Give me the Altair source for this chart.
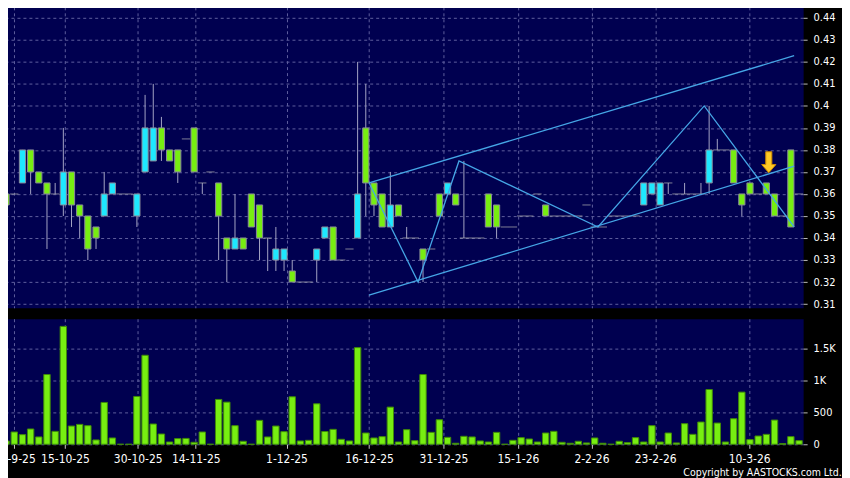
import altair as alt
import pandas as pd

# ---------------- data ----------------
opens = [0.36, 0.36, 0.365, 0.38, 0.37, 0.365, 0.36, 0.355, 0.37, 0.355,
         0.35, 0.345, 0.35, 0.36, 0.36, 0.36, 0.35, 0.37, 0.375, 0.39,
         0.38, 0.38, 0.385, 0.39, 0.365, 0.37, 0.365, 0.34, 0.335, 0.34,
         0.36, 0.355, 0.34, 0.33, 0.33, 0.325, 0.32, 0.32, 0.33, 0.34,
         0.345, 0.33, 0.335, 0.34, 0.39, 0.365, 0.36, 0.345, 0.355, 0.34,
         0.34, 0.335, 0.335, 0.36, 0.36, 0.36, 0.34, 0.34, 0.34, 0.36,
         0.355, 0.345, 0.345, 0.35, 0.35, 0.36, 0.355, 0.35, 0.35, 0.35,
         0.35, 0.355, 0.345, 0.345, 0.35, 0.35, 0.35, 0.35, 0.355, 0.36,
         0.355, 0.365, 0.36, 0.36, 0.36, 0.36, 0.365, 0.38, 0.38, 0.38,
         0.36, 0.365, 0.36, 0.365, 0.36, 0.35, 0.38, 0.36]
highs = [0.36, 0.36, 0.38, 0.38, 0.37, 0.365, 0.365, 0.39, 0.37, 0.355,
         0.35, 0.345, 0.37, 0.365, 0.36, 0.36, 0.36, 0.405, 0.41, 0.395,
         0.38, 0.38, 0.385, 0.39, 0.365, 0.37, 0.365, 0.34, 0.36, 0.34,
         0.36, 0.355, 0.34, 0.345, 0.335, 0.33, 0.32, 0.32, 0.335, 0.345,
         0.345, 0.33, 0.335, 0.42, 0.41, 0.365, 0.36, 0.37, 0.355, 0.345,
         0.34, 0.335, 0.335, 0.36, 0.365, 0.36, 0.375, 0.34, 0.34, 0.36,
         0.355, 0.345, 0.345, 0.35, 0.35, 0.36, 0.355, 0.35, 0.35, 0.35,
         0.35, 0.355, 0.345, 0.345, 0.35, 0.35, 0.35, 0.35, 0.365, 0.365,
         0.365, 0.365, 0.36, 0.365, 0.36, 0.365, 0.40, 0.385, 0.38, 0.38,
         0.36, 0.365, 0.36, 0.365, 0.36, 0.35, 0.38, 0.36]
lows = [0.35, 0.36, 0.365, 0.36, 0.365, 0.335, 0.36, 0.35, 0.345, 0.34,
        0.33, 0.335, 0.35, 0.36, 0.36, 0.36, 0.345, 0.37, 0.375, 0.375,
        0.375, 0.365, 0.385, 0.37, 0.36, 0.37, 0.33, 0.32, 0.335, 0.335,
        0.345, 0.33, 0.325, 0.325, 0.325, 0.32, 0.32, 0.32, 0.32, 0.34,
        0.33, 0.33, 0.335, 0.34, 0.35, 0.35, 0.345, 0.345, 0.35, 0.34,
        0.34, 0.32, 0.335, 0.35, 0.36, 0.355, 0.34, 0.34, 0.34, 0.345,
        0.34, 0.345, 0.345, 0.35, 0.35, 0.36, 0.35, 0.35, 0.35, 0.35,
        0.35, 0.355, 0.345, 0.345, 0.35, 0.35, 0.35, 0.35, 0.355, 0.36,
        0.355, 0.36, 0.36, 0.36, 0.36, 0.36, 0.36, 0.38, 0.38, 0.365,
        0.35, 0.36, 0.36, 0.36, 0.35, 0.35, 0.345, 0.36]
closes = [0.355, 0.36, 0.38, 0.37, 0.365, 0.36, 0.36, 0.37, 0.355, 0.35,
          0.335, 0.34, 0.36, 0.365, 0.36, 0.36, 0.36, 0.39, 0.39, 0.38,
          0.375, 0.37, 0.385, 0.37, 0.365, 0.37, 0.35, 0.335, 0.34, 0.335,
          0.345, 0.34, 0.34, 0.335, 0.335, 0.32, 0.32, 0.32, 0.335, 0.345,
          0.33, 0.33, 0.335, 0.36, 0.365, 0.355, 0.345, 0.355, 0.35, 0.34,
          0.34, 0.33, 0.335, 0.35, 0.365, 0.355, 0.34, 0.34, 0.34, 0.345,
          0.345, 0.345, 0.345, 0.35, 0.35, 0.36, 0.35, 0.35, 0.35, 0.35,
          0.35, 0.355, 0.345, 0.345, 0.35, 0.35, 0.35, 0.35, 0.365, 0.365,
          0.365, 0.365, 0.36, 0.36, 0.36, 0.36, 0.38, 0.38, 0.38, 0.365,
          0.355, 0.36, 0.36, 0.36, 0.35, 0.35, 0.345, 0.36]
volumes = [52, 193, 151, 240, 115, 1094, 203, 1849, 286, 312,
           292, 68, 656, 99, 0, 0, 750, 1396, 318, 161,
           36, 89, 92, 31, 193, 0, 703, 661, 292, 47,
           0, 375, 115, 286, 198, 745, 52, 62, 635, 200,
           234, 78, 52, 1516, 177, 99, 120, 583, 36, 229,
           57, 1094, 187, 385, 109, 16, 125, 115, 52, 36,
           187, 0, 62, 104, 83, 36, 177, 203, 31, 16,
           47, 21, 99, 16, 0, 47, 26, 104, 36, 292,
           36, 177, 21, 323, 156, 349, 859, 333, 36, 401,
           818, 73, 130, 156, 380, 10, 120, 57]

date_tick_pos = [1.0, 7.2, 16.1, 23.2, 34.3, 44.4, 53.5, 62.6, 71.6, 79.4, 90.9]
date_tick_labels = ["30-9-25", "15-10-25", "30-10-25", "14-11-25", "1-12-25", "16-12-25",
                    "31-12-25", "15-1-26", "2-2-26", "23-2-26", "10-3-26"]
price_ticks = [0.31, 0.32, 0.33, 0.34, 0.35, 0.36, 0.37, 0.38, 0.39, 0.40, 0.41, 0.42, 0.43, 0.44]
vol_ticks = [0, 500, 1000, 1500]
vol_tick_labels = ["0", "500", "1K", "1.5K"]

# trend-line annotations (bar index, price)
zigzag_x = [44.4, 50.4, 55.4, 72.4, 85.4, 96.4]
zigzag_y = [0.365, 0.32, 0.375, 0.345, 0.40, 0.345]
upper_x = [44.4, 96.4]
upper_y = [0.365, 0.4228]
lower_x = [44.4, 96.4]
lower_y = [0.314, 0.3726]
arrow_x = [93.3]
arrow_y = [0.3744]

# ---------------- styling ----------------
NAVY = "#000050"
GRID = "#5e5e9e"
CYAN = "#1ee8ff"
GREEN = "#77ee11"
FONT = "DejaVu Sans Condensed, Liberation Sans Narrow, DejaVu Sans"
LINE_BLUE = "#45a6e6"

n = len(opens)
kind = ["up" if c > o else ("down" if c < o else "flat") for o, c in zip(opens, closes)]
df = pd.DataFrame({"idx": list(range(n)), "open": opens, "high": highs, "low": lows,
                   "close": closes, "volume": volumes, "kind": kind})
df["body_lo"] = df[["open", "close"]].min(axis=1)
df["body_hi"] = df[["open", "close"]].max(axis=1)

pat_rows = []
for name, xs, ys in [("zig", zigzag_x, zigzag_y), ("up", upper_x, upper_y), ("lo", lower_x, lower_y)]:
    for k, (a, b) in enumerate(zip(xs, ys)):
        pat_rows.append({"series": name, "order": k, "px": a, "py": b})
pat_df = pd.DataFrame(pat_rows)
arrow_df = pd.DataFrame({"ax": arrow_x, "ay": arrow_y})

xscale = alt.Scale(domain=[-0.5, n - 0.5], nice=False, zero=False, padding=0)
pscale = alt.Scale(domain=[0.3083, 0.4450], nice=False, zero=False, padding=0)
vscale = alt.Scale(domain=[0, 1969], nice=False, padding=0)

grid_x_axis = alt.Axis(values=date_tick_pos, labels=False, ticks=False, domain=False, grid=True,
                       gridColor=GRID, gridDash=[3, 3], title=None)
price_axis = alt.Axis(orient="right", values=price_ticks, format="~g", title=None, domain=False,
                      tickSize=4, tickColor="#b8b8b8", labelPadding=6, labelColor="#ffffff",
                      labelFont=FONT, labelFontSize=11, grid=True, gridColor=GRID, gridDash=[3, 3])


def px(field):
    return alt.X(field, scale=xscale, axis=grid_x_axis)


def py(field):
    return alt.Y(field, scale=pscale, axis=price_axis)


wick_df = df[df["high"] > df["low"]]
body_df = df[df["kind"] != "flat"]
flat_df = df[df["kind"] == "flat"]

wicks = alt.Chart(wick_df).mark_rule(color="#a4a4c4", strokeWidth=1).encode(
    x=px("idx:Q"), y=py("low:Q"), y2="high:Q",
)
bodies = alt.Chart(body_df).mark_bar(width=6.2, stroke="#8a8a9a", strokeWidth=1).encode(
    x=px("idx:Q"), y=py("body_lo:Q"), y2="body_hi:Q",
    fill=alt.Fill("kind:N", scale=alt.Scale(domain=["up", "down"], range=[CYAN, GREEN]), legend=None),
)
flats = alt.Chart(flat_df).mark_tick(orient="horizontal", size=8.3, thickness=1, color="#b4b4b4").encode(
    x=px("idx:Q"), y=py("open:Q"),
)
pattern = alt.Chart(pat_df).mark_line(color=LINE_BLUE, strokeWidth=1.3).encode(
    x=px("px:Q"), y=py("py:Q"), detail="series:N", order="order:Q",
)
arrow_path = "M-0.29,-1L0.29,-1L0.29,0.22L0.68,0.22L0,1L-0.68,0.22L-0.29,0.22Z"
arrow = alt.Chart(arrow_df).mark_point(shape=arrow_path, size=441, filled=True, fill="#ffc926",
                                       stroke="#d08a00", strokeWidth=1, opacity=1).encode(
    x=px("ax:Q"), y=py("ay:Q"),
)

price = alt.layer(wicks, bodies, flats, pattern, arrow).properties(width=804, height=302)

date_expr = ("[" + ",".join("'%s'" % s for s in date_tick_labels) + "][indexof(["
             + ",".join(str(v) for v in date_tick_pos) + "], datum.value)]")
vol_expr = ("[" + ",".join("'%s'" % s for s in vol_tick_labels) + "][indexof(["
            + ",".join(str(v) for v in vol_ticks) + "], datum.value)]")

vol = alt.Chart(df).mark_bar(width=6.4, fill=GREEN, stroke="#3f8a08", strokeWidth=1).encode(
    x=alt.X("idx:Q", scale=xscale,
            axis=alt.Axis(values=date_tick_pos, labelExpr=date_expr, title=None, domain=False,
                          tickSize=4, tickColor="#c8c8c8", labelPadding=5, labelColor="#ffffff",
                          labelFont=FONT, labelFontSize=12, labelOverlap=False,
                          grid=True, gridColor=GRID, gridDash=[3, 3])),
    y=alt.Y("volume:Q", scale=vscale,
            axis=alt.Axis(orient="right", values=vol_ticks, labelExpr=vol_expr, title=None,
                          domain=False, tickSize=4, tickColor="#b8b8b8", labelPadding=6,
                          labelColor="#ffffff", labelFont=FONT, labelFontSize=11,
                          grid=True, gridColor=GRID, gridDash=[3, 3])),
).properties(width=804, height=126)

chart = alt.vconcat(price, vol, spacing=8).properties(
    padding={"left": -16, "top": -3, "right": 0, "bottom": 0},
    background="#000000",
    title=alt.TitleParams("Copyright by AASTOCKS.com Ltd.", orient="bottom", anchor="end",
                          font=FONT, fontSize=10.5, fontWeight="normal", color="#ffffff",
                          offset=3, dx=6),
).configure_view(fill=NAVY, stroke="transparent")

chart.save("out.html", embed_options={"renderer": "svg", "actions": False})
